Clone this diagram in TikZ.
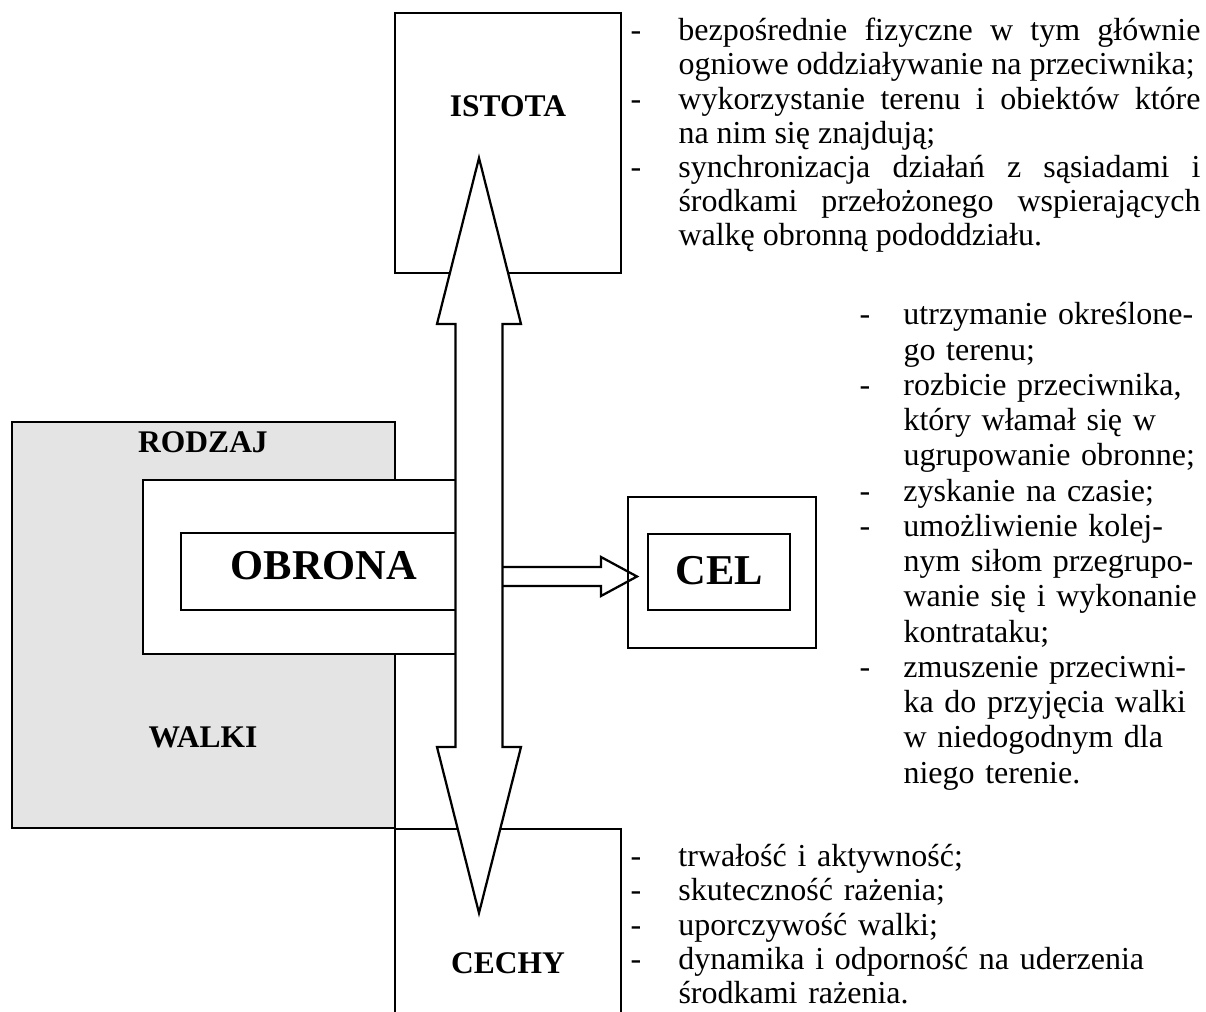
\documentclass[tikz,border=0pt]{standalone}
\usepackage{fontspec}
\setmainfont{Liberation Serif}
\definecolor{szary}{RGB}{228,228,228}
\hyphenpenalty=10000
\exhyphenpenalty=10000
\newcommand{\punkt}[2][19.2pt]{\par\noindent\hangindent=#1\hangafter=1\makebox[#1][l]{-}#2}
\tikzset{
    ramka/.style={draw, line width=0.9pt},
    tytul/.style={font=\fontsize{12.6pt}{15pt}\selectfont\bfseries, inner sep=0pt, anchor=base},
    duzy/.style={font=\fontsize{17pt}{20pt}\selectfont\bfseries, inner sep=0pt, anchor=base},
    opis/.style={font=\fontsize{12.8pt}{13.67pt}\selectfont, inner sep=0pt, anchor=north west},
}
\begin{document}
\begin{tikzpicture}[x=0.4pt,y=-0.4pt]
    \useasboundingbox (0,0) rectangle (1206,1012);
    \filldraw[ramka, fill=szary] (12,422) rectangle (395,828);%灰色的大方框
    \filldraw[ramka, fill=white] (143,480) rectangle (479,654);
    \filldraw[ramka, fill=white] (181,533) rectangle (479,610);
    \draw[ramka] (395,13) rectangle (621,273);%上面的方框
    \draw[ramka] (395,1020) -- (395,829) -- (621,829) -- (621,1020);%下面的方框,下边在图外
    \filldraw[ramka, fill=white]
        (479,567) -- (601,567) -- (601,557) -- (637,576.5) -- (601,596) -- (601,586) -- (479,586) -- cycle;%指向右边的箭头
    \draw[ramka] (628,497) rectangle (816,648);
    \draw[ramka] (648,534) rectangle (790,610);
    \filldraw[ramka, fill=white]
        (479,158) -- (521,324) -- (502.5,324) -- (502.5,747) -- (521,747) -- (479,913)
        -- (437,747) -- (455.5,747) -- (455.5,324) -- (437,324) -- cycle;%上下两个方向的箭头

    \node[tytul] (istota) at (508,117) {ISTOTA};
    \node[tytul] (rodzaj) at (203,452) {RODZAJ};
    \node[tytul] (walki) at (203,747) {WALKI};
    \node[tytul] (cechy) at (508,973) {CECHY};
    \node[duzy] (obrona) at (324,579) {OBRONA};
    \node[duzy] (cel) at (719,584) {CEL};

    \node[opis, text width=228pt, align=justify] (istotaopis) at (630,6) {%
        \punkt{bezpośrednie fizyczne w tym głównie\linebreak ogniowe oddziaływanie na przeciwnika;}
        \punkt{wykorzystanie terenu i obiektów które\linebreak na nim się znajdują;}
        \punkt{synchronizacja działań z sąsiadami i\linebreak środkami przełożonego wspierających\linebreak walkę obronną pododdziału.}\par};
    \node[opis, font=\fontsize{12.8pt}{14.1pt}\selectfont, text width=140pt, align=left] (celopis) at (859,289) {%
        \punkt[17.6pt]{utrzymanie określone-\newline go terenu;}
        \punkt[17.6pt]{rozbicie przeciwnika,\newline który włamał się w\newline ugrupowanie obronne;}
        \punkt[17.6pt]{zyskanie na czasie;}
        \punkt[17.6pt]{umożliwienie kolej-\newline nym siłom przegrupo-\newline wanie się i wykonanie\newline kontrataku;}
        \punkt[17.6pt]{zmuszenie przeciwni-\newline ka do przyjęcia walki\newline w niedogodnym dla\newline niego terenie.}\par};
    \node[opis, text width=228pt, align=left] (cechyopis) at (630,832) {%
        \punkt{trwałość i aktywność;}
        \punkt{skuteczność rażenia;}
        \punkt{uporczywość walki;}
        \punkt{dynamika i odporność na uderzenia\newline środkami rażenia.}\par};
\end{tikzpicture}
\end{document}
